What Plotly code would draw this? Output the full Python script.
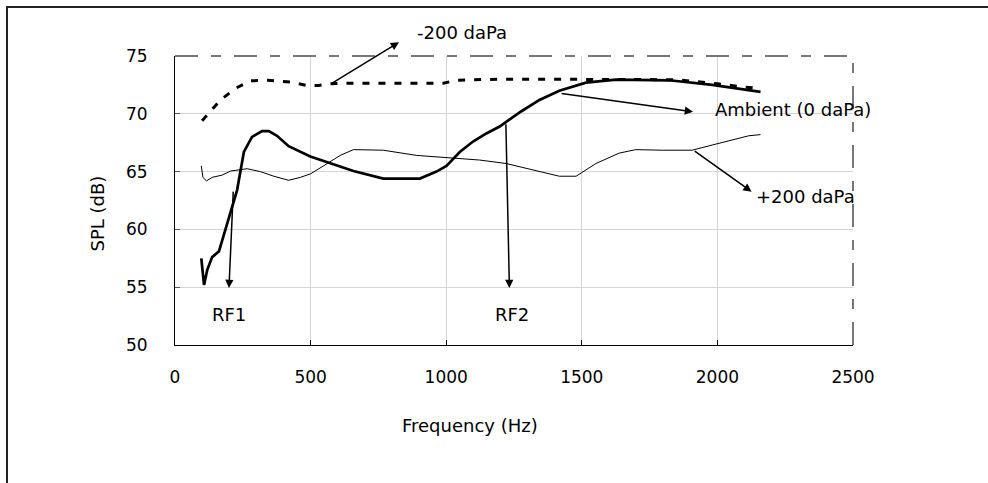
import plotly.graph_objects as go

# ---- data ----
amb_x = [97, 107, 119, 137, 162, 205, 229, 254, 284, 321, 346, 376, 419, 499, 572, 658, 768,
         903, 964, 1001, 1050, 1099, 1148, 1197, 1221, 1276, 1344, 1417, 1515, 1626, 1822, 1981, 2159]
amb_y = [57.5, 55.2, 56.5, 57.6, 58.1, 61.4, 63.4, 66.7, 68.0, 68.5, 68.5, 68.1, 67.2, 66.3, 65.7, 65.05, 64.4,
         64.4, 65.0, 65.5, 66.7, 67.6, 68.3, 68.9, 69.3, 70.2, 71.2, 72.0, 72.7, 72.95, 72.9, 72.5, 71.9]

pos_x = [97, 103, 116, 137, 174, 205, 266, 315, 364, 419, 462, 499, 548, 609, 658, 768, 891, 1013,
         1123, 1221, 1356, 1417, 1479, 1552, 1638, 1699, 1797, 1907, 1981, 2116, 2159]
pos_y = [65.5, 64.5, 64.2, 64.5, 64.7, 65.05, 65.25, 65.0, 64.6, 64.25, 64.5, 64.8, 65.5, 66.4, 66.9, 66.85, 66.4, 66.2,
         66.0, 65.7, 64.9, 64.6, 64.6, 65.7, 66.6, 66.9, 66.85, 66.85, 67.3, 68.1, 68.2]

neg_x = [100, 119, 168, 223, 278, 340, 425, 487, 529, 572, 646, 989, 1038, 1197, 1601, 1700, 1850, 2000, 2100, 2160]
neg_y = [69.4, 69.9, 71.2, 72.2, 72.85, 72.9, 72.75, 72.45, 72.45, 72.6, 72.65, 72.65, 72.9, 73.0, 73.0, 73.0, 72.95, 72.6, 72.3, 72.2]

x_ticks = [0, 500, 1000, 1500, 2000, 2500]
y_ticks = [50, 55, 60, 65, 70, 75]

# annotation labels: (text, x, y, xanchor)
labels = [
    ("Ambient (0 daPa)", 1985, 70.33, "left"),
    ("+200 daPa", 2135, 62.83, "left"),
    ("RF1", 199, 52.6, "center"),
    ("RF2", 1243, 52.6, "center"),
]
# arrows: (head_x, head_y, tail_x, tail_y)
arrows = [
    (826, 76.19, 574, 72.58),
    (1910, 70.18, 1420, 71.77),
    (2126, 63.26, 1911, 66.87),
    (199, 54.93, 215, 63.4),
    (1233, 54.93, 1220, 69.23),
]

FONT = "DejaVu Sans"
FS = 18

def px2paper_x(px):
    return (px - 175) / 678

def px2paper_y(py):
    return (345 - py) / 289

fig = go.Figure()
fig.add_trace(go.Scatter(x=neg_x, y=neg_y, mode="lines", line=dict(color="black", width=3, dash="7px,9px"),
                         name="-200 daPa", hoverinfo="skip"))
fig.add_trace(go.Scatter(x=pos_x, y=pos_y, mode="lines", line=dict(color="black", width=1),
                         name="+200 daPa", hoverinfo="skip"))
fig.add_trace(go.Scatter(x=amb_x, y=amb_y, mode="lines", line=dict(color="black", width=2.7),
                         name="Ambient (0 daPa)", hoverinfo="skip"))

annotations = []
for t, x, y, xa in labels:
    annotations.append(dict(text=t, x=x, y=y, xref="x", yref="y", showarrow=False, xanchor=xa, yanchor="middle",
                            font=dict(family=FONT, size=FS, color="black")))
# label above the plot area (outside the y range, so placed in paper units)
annotations.append(dict(text="-200 daPa", x=px2paper_x(415), y=px2paper_y(33), xref="paper", yref="paper",
                        showarrow=False, xanchor="left", yanchor="middle",
                        font=dict(family=FONT, size=FS, color="black")))
for hx, hy, tx, ty in arrows:
    annotations.append(dict(text="", x=hx, y=hy, ax=tx, ay=ty, xref="x", yref="y", axref="x", ayref="y",
                            showarrow=True, arrowhead=2, arrowsize=1.1, arrowwidth=1.5, arrowcolor="black",
                            standoff=0, startstandoff=0))
# axis titles placed as in the reference
annotations.append(dict(text="SPL (dB)", x=px2paper_x(97.5), y=px2paper_y(214), xref="paper", yref="paper",
                        xanchor="center", yanchor="middle",
                        showarrow=False, textangle=-90, font=dict(family=FONT, size=FS, color="black")))
annotations.append(dict(text="Frequency (Hz)", x=px2paper_x(470), y=px2paper_y(425), xref="paper", yref="paper",
                        xanchor="center", yanchor="middle",
                        showarrow=False, font=dict(family=FONT, size=FS, color="black")))

shapes = [
    # dashed grey top and right frame of plot area
    dict(type="line", xref="paper", yref="paper", x0=0, x1=1, y0=1, y1=1,
         line=dict(color="#777777", width=2, dash="23px,13px,10px,13px")),
    dict(type="line", xref="paper", yref="paper", x0=1, x1=1, y0=0, y1=1,
         line=dict(color="#777777", width=2, dash="23px,13px,10px,13px")),
    # outer chart border (left and top)
    dict(type="path", xref="paper", yref="paper",
         path=f"M {px2paper_x(7)} {px2paper_y(490)} L {px2paper_x(7)} {px2paper_y(7)} L {px2paper_x(995)} {px2paper_y(7)}",
         line=dict(color="#222222", width=2)),
]

fig.update_layout(
    width=988, height=483,
    margin=dict(l=175, r=135, t=56, b=138),
    paper_bgcolor="white", plot_bgcolor="white",
    showlegend=False,
    font=dict(family=FONT, size=17, color="black"),
    annotations=annotations,
    shapes=shapes,
)
fig.update_xaxes(range=[0, 2500], tickvals=x_ticks, ticktext=[str(v) for v in x_ticks],
                 showgrid=True, gridcolor="#d4d4d4", gridwidth=1,
                 showline=True, linecolor="black", linewidth=1,
                 ticks="inside", ticklen=5, tickcolor="black", zeroline=False,
                 ticklabelstandoff=17, tickfont=dict(family=FONT, size=17, color="black"))
fig.update_yaxes(range=[50, 75], tickvals=y_ticks, ticktext=[str(v) for v in y_ticks],
                 showgrid=True, gridcolor="#d4d4d4", gridwidth=1,
                 showline=True, linecolor="black", linewidth=1,
                 ticks="inside", ticklen=5, tickcolor="#555555", zeroline=False,
                 ticklabelstandoff=23, tickfont=dict(family=FONT, size=17, color="black"))

fig.write_html("out.html")
